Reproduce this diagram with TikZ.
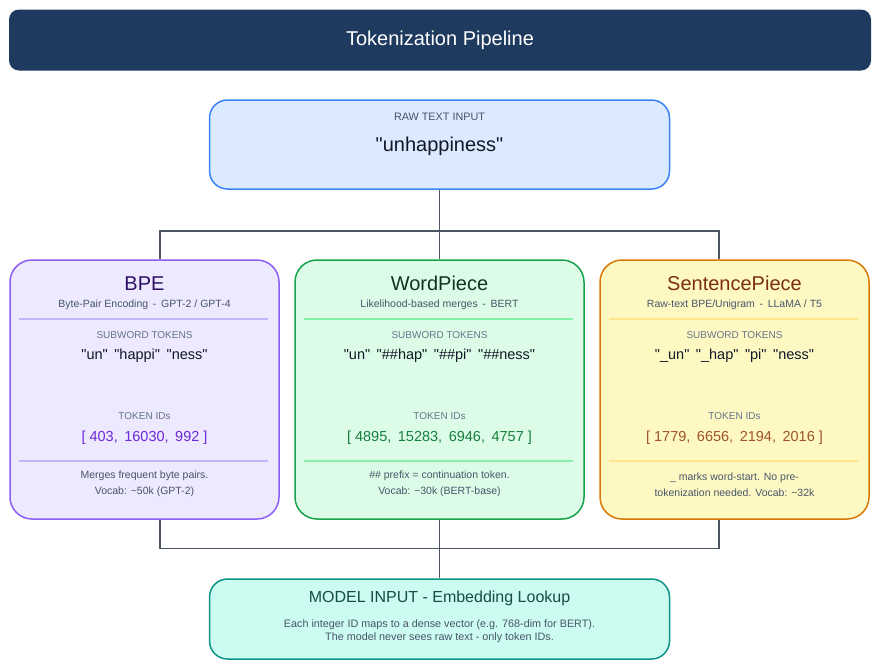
\documentclass[tikz,border=0pt]{standalone}
\usepackage{fontspec}
\setmainfont{Liberation Sans}
\usetikzlibrary{positioning}

\definecolor{titleBlue}{HTML}{1E3A5F}
\definecolor{rawFill}{HTML}{DBEAFE}
\definecolor{rawDraw}{HTML}{3B82F6}
\definecolor{bpeFill}{HTML}{EDE9FE}
\definecolor{bpeDraw}{HTML}{8B5CF6}
\definecolor{bpeSep}{HTML}{C4B5FD}
\definecolor{bpeHead}{HTML}{2E1065}
\definecolor{bpeIds}{HTML}{6D28D9}
\definecolor{wpFill}{HTML}{DCFCE7}
\definecolor{wpDraw}{HTML}{16A34A}
\definecolor{wpSep}{HTML}{86EFAC}
\definecolor{wpHead}{HTML}{14331F}
\definecolor{wpIds}{HTML}{15803D}
\definecolor{spFill}{HTML}{FEF9C3}
\definecolor{spDraw}{HTML}{D97706}
\definecolor{spSep}{HTML}{FDE68A}
\definecolor{spHead}{HTML}{7C2D12}
\definecolor{spIds}{HTML}{A0522D}
\definecolor{modelFill}{HTML}{CCFBF1}
\definecolor{modelDraw}{HTML}{0D9488}
\definecolor{modelHead}{HTML}{134E4A}
\definecolor{linkGray}{HTML}{4B5563}
\definecolor{tagGray}{HTML}{64748B}
\definecolor{subGray}{HTML}{475569}
\definecolor{tokBlack}{HTML}{111827}

\newcommand{\tgap}{\hspace{0.45em}}
\newcommand{\qt}[1]{\textquotedbl#1\textquotedbl}

\begin{document}
\begin{tikzpicture}[
x=1pt, y=-1pt,
titleBar/.style={fill=titleBlue, text=white, rounded corners=10pt, minimum width=862pt, minimum height=61pt, font=\fontsize{20}{22}\selectfont},
ioBox/.style 2 args={draw=#1, fill=#2, line width=1.5pt, rounded corners=18pt, minimum width=460pt, inner sep=0pt},
stageBox/.style 2 args={draw=#1, fill=#2, line width=1.5pt, rounded corners=22pt, minimum height=259pt, inner sep=0pt},
fontTag/.style={font=\fontsize{10}{12}\selectfont, text=tagGray},
fontSub/.style={font=\fontsize{10.5}{12}\selectfont, text=subGray},
fontHead/.style={font=\fontsize{20}{22}\selectfont},
fontTok/.style={font=\fontsize{14.5}{16}\selectfont},
fontNote/.style={font=\fontsize{10.5}{16}\selectfont, text=subGray, align=center},
sepLine/.style={line width=2pt},
link/.style={draw=linkGray, line width=1.5pt}
]

\useasboundingbox (0,0) rectangle (880,670);

%%%% TITLE
\node[titleBar] (title) at (440,40) {Tokenization Pipeline};

%%%% RAW TEXT
\node[ioBox={rawDraw}{rawFill}, minimum height=89pt] (raw) at (439.5,144.5) {};
\path (raw.north)++(0,17.5) node[fontTag, text=subGray, font=\fontsize{10.8}{12}\selectfont] (rawTag) {RAW TEXT INPUT};
\path (raw.north)++(0,47) node[fontHead, text=tokBlack] (rawWord) {\qt{unhappiness}};

%%%% BPE
\node[stageBox={bpeDraw}{bpeFill}, minimum width=269pt] (bpe) at (144.5,389.5) {};
\path (bpe.north)++(0,24) node[fontHead, text=bpeHead] (bpeHead) {BPE};
\path (bpe.north)++(0,46) node[fontSub] (bpeSub) {Byte-Pair Encoding\tgap-\tgap GPT-2 / GPT-4};
\draw[sepLine, bpeSep] (bpe.north west)++(10,60)--++(249,0);
\path (bpe.north)++(0,75.5) node[fontTag] (bpeTag) {SUBWORD TOKENS};
\path (bpe.north)++(0,96.5) node[fontTok, text=tokBlack] (bpeTok) {\qt{un}\tgap\qt{happi}\tgap\qt{ness}};
\path (bpe.north)++(0,156.5) node[fontTag] (bpeIdTag) {TOKEN IDs};
\path (bpe.north)++(0,178.5) node[fontTok, text=bpeIds] (bpeIds) {[ 403,\tgap16030,\tgap992 ]};
\draw[sepLine, bpeSep] (bpe.north west)++(10,202)--++(249,0);
\path (bpe.north)++(0,225) node[fontNote] (bpeNote) {Merges frequent byte pairs.\\Vocab: \textasciitilde50k (GPT-2)};

%%%% WORDPIECE
\node[stageBox={wpDraw}{wpFill}, minimum width=289pt] (wp) at (439.5,389.5) {};
\path (wp.north)++(0,24) node[fontHead, text=wpHead] (wpHead) {WordPiece};
\path (wp.north)++(0,46) node[fontSub] (wpSub) {Likelihood-based merges\tgap-\tgap BERT};
\draw[sepLine, wpSep] (wp.north west)++(10,60)--++(269,0);
\path (wp.north)++(0,75.5) node[fontTag] (wpTag) {SUBWORD TOKENS};
\path (wp.north)++(0,96.5) node[fontTok, text=tokBlack] (wpTok) {\qt{un}\tgap\qt{\#\#hap}\tgap\qt{\#\#pi}\tgap\qt{\#\#ness}};
\path (wp.north)++(0,156.5) node[fontTag] (wpIdTag) {TOKEN IDs};
\path (wp.north)++(0,178.5) node[fontTok, text=wpIds] (wpIds) {[ 4895,\tgap15283,\tgap6946,\tgap4757 ]};
\draw[sepLine, wpSep] (wp.north west)++(10,202)--++(269,0);
\path (wp.north)++(0,225) node[fontNote] (wpNote) {\#\# prefix = continuation token.\\Vocab: \textasciitilde30k (BERT-base)};

%%%% SENTENCEPIECE
\node[stageBox={spDraw}{spFill}, minimum width=269pt] (sp) at (734.5,389.5) {};
\path (sp.north)++(0,24) node[fontHead, text=spHead] (spHead) {SentencePiece};
\path (sp.north)++(0,46) node[fontSub] (spSub) {Raw-text BPE/Unigram\tgap-\tgap LLaMA / T5};
\draw[sepLine, spSep] (sp.north west)++(10,60)--++(249,0);
\path (sp.north)++(0,75.5) node[fontTag] (spTag) {SUBWORD TOKENS};
\path (sp.north)++(0,96.5) node[fontTok, text=tokBlack] (spTok) {\qt{\_un}\tgap\qt{\_hap}\tgap\qt{pi}\tgap\qt{ness}};
\path (sp.north)++(0,156.5) node[fontTag] (spIdTag) {TOKEN IDs};
\path (sp.north)++(0,178.5) node[fontTok, text=spIds] (spIds) {[ 1779,\tgap6656,\tgap2194,\tgap2016 ]};
\draw[sepLine, spSep] (sp.north west)++(10,202)--++(249,0);
\path (sp.north)++(0,225) node[fontNote] (spNote) {\_ marks word-start. No pre-\\tokenization needed. Vocab: \textasciitilde32k};

%%%% MODEL INPUT
\node[ioBox={modelDraw}{modelFill}, minimum height=80pt] (model) at (439.5,619) {};
\path (model.north)++(0,20) node[fontHead, text=modelHead, font=\fontsize{16}{18}\selectfont] (modelHead) {MODEL INPUT - Embedding Lookup};
\path (model.north)++(0,53) node[fontNote, font=\fontsize{10.8}{13}\selectfont] (modelNote) {Each integer ID maps to a dense vector (e.g. 768-dim for BERT).\\The model never sees raw text - only token IDs.};

%% links
\path (raw.south)++(0,41) coordinate (split);
\path (model.north)++(0,-30) coordinate (merge);
\draw[link] (raw.south)--(split);
\draw[link] ([xshift=15.5pt]bpe.north)|-(split)-|([xshift=-15.5pt]sp.north);
\draw[link] (split)--(wp.north);
\draw[link] ([xshift=15.5pt]bpe.south)|-(merge)-|([xshift=-15.5pt]sp.south);
\draw[link] (wp.south)--(merge);
\draw[link] (merge)--(model.north);

\end{tikzpicture}
\end{document}
